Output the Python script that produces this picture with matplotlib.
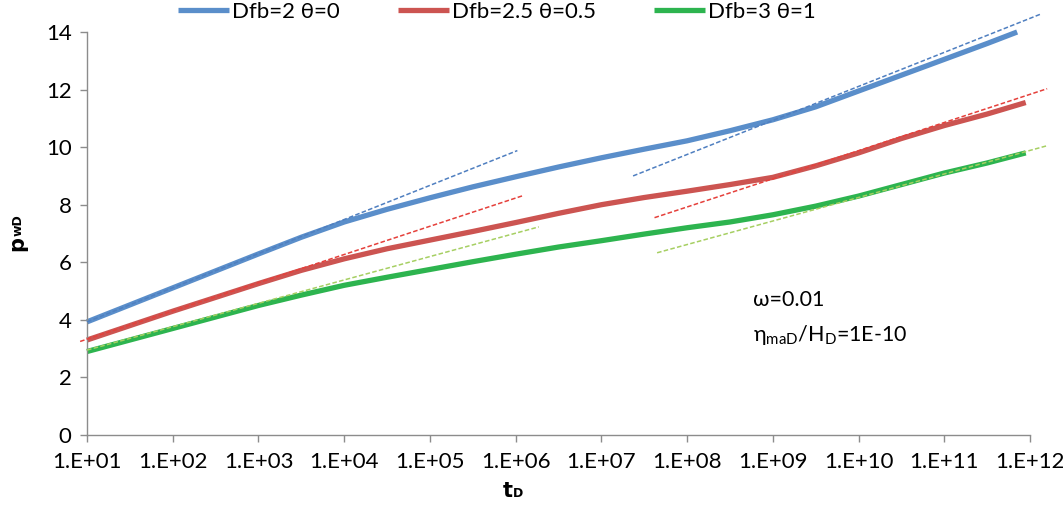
import numpy as np
import matplotlib
matplotlib.use("Agg")
from matplotlib import pyplot as plt
from matplotlib.ticker import FuncFormatter, FixedLocator, NullLocator

plt.rcParams['font.family'] = ['Lato', 'DejaVu Sans']
plt.rcParams['mathtext.fontset'] = 'custom'
plt.rcParams['mathtext.rm'] = 'Lato'

# solid curves (log10 tD -> pwD)
blue_logt = [1, 1.5, 2, 2.5, 3, 3.5, 4, 4.5, 5, 5.5, 6, 6.5, 7, 7.5, 8, 8.5, 9, 9.5, 10, 10.5, 11, 11.5, 11.85]
blue_p = [3.93, 4.52, 5.11, 5.7, 6.29, 6.87, 7.4, 7.84, 8.24, 8.62, 8.97, 9.31, 9.63, 9.93, 10.22, 10.57, 10.95, 11.4, 11.95, 12.5, 13.05, 13.6, 14.0]

red_logt = [1, 1.5, 2, 2.5, 3, 3.5, 4, 4.5, 5, 5.5, 6, 6.5, 7, 7.5, 8, 8.5, 9, 9.5, 10, 10.5, 11, 11.5, 11.95]
red_p = [3.3, 3.8, 4.3, 4.78, 5.26, 5.72, 6.12, 6.47, 6.77, 7.07, 7.38, 7.7, 8.0, 8.25, 8.47, 8.7, 8.95, 9.35, 9.8, 10.3, 10.75, 11.15, 11.55]

green_logt = [1, 1.5, 2, 2.5, 3, 3.5, 4, 4.5, 5, 5.5, 6, 6.5, 7, 7.5, 8, 8.5, 9, 9.5, 10, 10.5, 11, 11.5, 11.95]
green_p = [2.9, 3.3, 3.7, 4.1, 4.5, 4.86, 5.2, 5.48, 5.75, 6.02, 6.28, 6.53, 6.75, 6.98, 7.2, 7.4, 7.65, 7.95, 8.3, 8.7, 9.1, 9.45, 9.8]

# dashed asymptotes: (log tD start, log tD end), (p start, p end)
blue_early = ([1.0, 6.02], [3.93, 9.88])
blue_late = ([7.37, 12.14], [9.0, 14.64])
red_early = ([0.92, 6.08], [3.25, 8.31])
red_late = ([7.62, 12.2], [7.55, 12.03])
green_early = ([1.0, 6.27], [2.95, 7.23])
green_late = ([7.65, 12.2], [6.33, 10.05])

labels = ['Dfb=2 θ=0', 'Dfb=2.5 θ=0.5', 'Dfb=3 θ=1']
xtick_logs = list(range(1, 13))
yticks = [0, 2, 4, 6, 8, 10, 12, 14]

fig = plt.figure(figsize=(10.63, 5.12), dpi=100)
ax = fig.add_axes([87/1063, 1-435/512, (1030-87)/1063, (435-32)/512])

solid_cols = ['#5A8ECA', '#CC5451', '#2DB44F']
dash_cols = ['#4F7FC0', '#E5403B', '#A6CF62']
series = [(blue_logt, blue_p, blue_early, blue_late),
          (red_logt, red_p, red_early, red_late),
          (green_logt, green_p, green_early, green_late)]

for i, (lt, p, early, late) in enumerate(series):
    ax.plot(10**np.array(lt), p, color=solid_cols[i], lw=3.8,
            solid_capstyle='butt', label=labels[i], clip_on=False, zorder=2)
for i, (lt, p, early, late) in enumerate(series):
    for seg in (early, late):
        ax.plot(10**np.array(seg[0]), seg[1], color=dash_cols[i], lw=1.1,
                ls=(0, (3, 1.5)), clip_on=False, zorder=3)

ax.set_xscale('log')
ax.set_xlim(10, 1e12)
ax.set_ylim(0, 14)
ax.xaxis.set_major_locator(FixedLocator([10.0**k for k in xtick_logs]))
ax.xaxis.set_minor_locator(NullLocator())
ax.xaxis.set_major_formatter(FuncFormatter(lambda v, pos: "1.E+%02d" % int(round(np.log10(v)))))
ax.set_yticks(yticks)

for s in ['top', 'right']:
    ax.spines[s].set_visible(False)
for s in ['left', 'bottom']:
    ax.spines[s].set_color('#8C8C8C')
    ax.spines[s].set_linewidth(1.0)
ax.tick_params(axis='both', colors='#8C8C8C', length=5, width=1.0, direction='out',
               labelcolor='black', labelsize=16)
ax.tick_params(axis='x', pad=7)
ax.tick_params(axis='y', pad=6)

# axis titles: big bold letter plus small bold suffix, Excel style
bold = ['DejaVu Sans']
fig.text(513/1063, 1-497/512, 't', fontsize=15, fontweight='bold', family=bold,
         ha='right', va='baseline')
fig.text(513/1063, 1-497/512, 'D', fontsize=9, fontweight='bold', family=bold,
         ha='left', va='baseline')
fig.text(27/1063, 1-236/512, 'p', fontsize=15, fontweight='bold', family=bold,
         rotation=90, ha='right', va='top')
fig.text(24.5/1063, 1-236/512, 'wD', fontsize=9, fontweight='bold', family=bold,
         rotation=90, ha='right', va='bottom')

fig.text(753/1063, 1-300/512, 'ω=0.01', fontsize=15.5, va='center', ha='left')
fig.text(753/1063, 1-335/512, r'η$_{\mathrm{maD}}$/H$_{\mathrm{D}}$=1E-10', fontsize=15.5,
         va='center', ha='left')

fig.legend(loc='center', bbox_to_anchor=(497/1063, 1-12/512), ncol=3, frameon=False,
           fontsize=16, handlelength=2.3, handletextpad=0.15, columnspacing=2.6)

fig.savefig('out.png', dpi=100, facecolor='white')
